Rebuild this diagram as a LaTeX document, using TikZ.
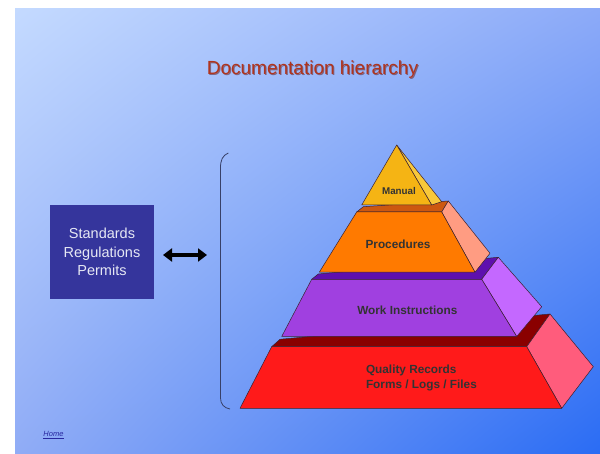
\documentclass[tikz,border=0pt]{standalone}
\usepackage{fontspec}
\setmainfont{Liberation Sans}
\usetikzlibrary{arrows.meta,shadings}
\definecolor{bgUL}{HTML}{C4DAFF}
\definecolor{bgUR}{HTML}{8CAAF8}
\definecolor{bgLL}{HTML}{90ACF6}
\definecolor{bgLR}{HTML}{2A6CF4}
\definecolor{titlered}{HTML}{B0341E}
\definecolor{titleshadow}{HTML}{6A2A30}
\definecolor{boxblue}{HTML}{35359C}
\definecolor{boxtext}{HTML}{E6E8F4}
\definecolor{manfront}{HTML}{F5B414}
\definecolor{manside}{HTML}{F8C83A}
\definecolor{profront}{HTML}{FF7A00}
\definecolor{protop}{HTML}{CC5810}
\definecolor{proside}{HTML}{FF9C82}
\definecolor{wrkfront}{HTML}{A040E0}
\definecolor{wrktop}{HTML}{5E10AE}
\definecolor{wrkside}{HTML}{C468FF}
\definecolor{qrfront}{HTML}{FF1A1A}
\definecolor{qrtop}{HTML}{8A0000}
\definecolor{qrside}{HTML}{FF5C7C}
\definecolor{edge}{HTML}{3A2030}
\definecolor{homeblue}{HTML}{2828A0}
\definecolor{bracket}{HTML}{384068}
\tikzset{
  face/.style={draw=edge, line width=0.5pt, line join=round},
  tiertext/.style={font=\bfseries\fontsize{11.8}{14}\selectfont, text=black!80, align=center},
  titlefont/.style={font=\fontsize{19}{22}\selectfont},
}
\begin{document}
\begin{tikzpicture}[x=1pt,y=-1pt]
\useasboundingbox (0,0) rectangle (600,454);
\fill[white] (0,0) rectangle (600,454);
\shade[upper left=bgUL, upper right=bgUR, lower left=bgLL, lower right=bgLR] (15,9) rectangle (600,454);

% title (with shadow)
\node[titlefont, text=titleshadow, opacity=0.6] (titleshd) at (313.5,71) {Documentation hierarchy};
\node[titlefont, text=titlered] (title) at (312.5,70) {Documentation hierarchy};

% left box
\node[fill=boxblue, minimum width=104pt, minimum height=94pt, inner sep=0pt,
      text=boxtext, align=center, font=\fontsize{14.5}{18.3}\selectfont] (std) at (102,252)
      {Standards\\Regulations\\Permits};

% double arrow
\coordinate (arrL) at (163,255);
\coordinate (arrR) at (207,255);
\draw[line width=3.4pt, {Triangle[width=13pt,length=9pt]}-{Triangle[width=13pt,length=9pt]}] (arrL) -- (arrR);

% bracket
\draw[bracket, line width=0.8pt] (228.3,153) .. controls (222.5,155.5) and (220.5,160) .. (220.5,168)
   -- (220.5,398) .. controls (220.5,404) and (224,408) .. (230,409);

% Quality records tier
\draw[face, fill=qrtop] (271.7,346.7) -- (280,339.3) -- (550,314) -- (526.7,346.7) -- cycle;
\draw[face, fill=qrside] (526.7,346.7) -- (550,314) -- (593.3,366.7) -- (561.7,408.3) -- cycle;
\draw[face, fill=qrfront] (271.7,346.7) -- (526.7,346.7) -- (561.7,408.3) -- (240,408.3) -- cycle;

% Work instructions tier
\draw[face, fill=wrktop] (311.7,279.3) -- (318.3,274) -- (498.3,257.3) -- (481.7,279.3) -- cycle;
\draw[face, fill=wrkside] (481.7,279.3) -- (498.3,257.3) -- (541.7,306.7) -- (516.7,336.5) -- cycle;
\draw[face, fill=wrkfront] (311.7,279.3) -- (481.7,279.3) -- (516.7,336.5) -- (281.7,336.5) -- cycle;

% Procedures tier
\draw[face, fill=protop] (356.7,212) -- (363.3,206.7) -- (448.3,201) -- (441.7,212) -- cycle;
\draw[face, fill=proside] (441.7,212) -- (448.3,201) -- (490,253.3) -- (475,272.2) -- cycle;
\draw[face, fill=profront] (356.7,212) -- (441.7,212) -- (475,272.2) -- (319.3,272.2) -- cycle;

% Manual
\draw[face, fill=manside] (396.7,145) -- (441.7,201.7) -- (431.7,205) -- cycle;
\draw[face, fill=manfront] (396.7,145) -- (431.7,205) -- (361.7,205) -- cycle;

% tier labels
\node[tiertext, font=\bfseries\fontsize{9.8}{12}\selectfont] (man) at (399,191) {Manual};
\node[tiertext] (pro) at (398,244) {Procedures};
\node[tiertext] (wrk) at (407.3,310) {Work Instructions};
\node[tiertext, align=left, anchor=west, font=\bfseries\fontsize{11.8}{15.7}\selectfont] (qr) at (362.5,378) {Quality Records\\Forms / Logs / Files};

% home link
\node[text=homeblue, font=\fontsize{7.5}{9}\selectfont\itshape, inner sep=0pt] (home) at (53.5,435) {\underline{Home}};
\end{tikzpicture}
\end{document}
